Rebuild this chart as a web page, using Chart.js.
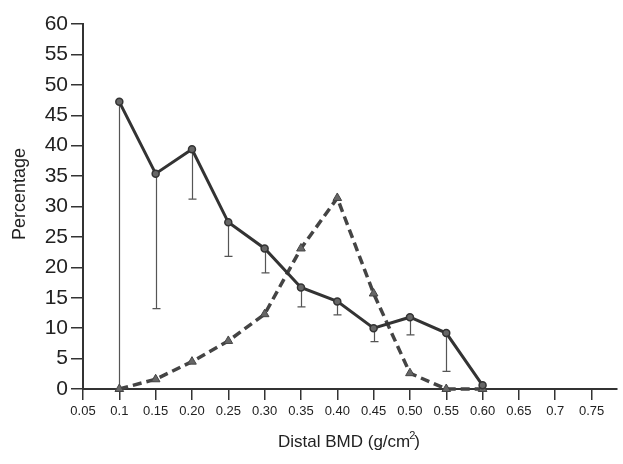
<!DOCTYPE html>
<html>
<head>
<meta charset="utf-8">
<script src="https://cdn.jsdelivr.net/npm/chart.js@4"></script>
<style>
  html, body { margin: 0; padding: 0; background: #fff; }
  #wrap { position: relative; width: 623px; height: 464px; }
</style>
</head>
<body>
<div id="wrap"><canvas id="bmdChart" width="623" height="464"></canvas></div>
<script>
// distal BMD bins (g/cm2)
const bmd = [0.1, 0.15, 0.2, 0.25, 0.3, 0.35, 0.4, 0.45, 0.5, 0.55, 0.6];
// solid series with lower error whiskers
const solidPct = [47.2, 35.4, 39.4, 27.4, 23.1, 16.7, 14.4, 10.0, 11.8, 9.2, 0.6];
const solidLow = [0, 13.2, 31.2, 21.8, 19.1, 13.5, 12.2, 7.8, 8.9, 2.9, null];
// dashed series
const dashedPct = [0, 1.6, 4.5, 7.9, 12.3, 23.1, 31.4, 15.7, 2.6, 0, 0];

const xTickValues = [0.05, 0.1, 0.15, 0.2, 0.25, 0.3, 0.35, 0.4, 0.45, 0.5, 0.55, 0.6, 0.65, 0.7, 0.75];
const xTickLabels = ['0.05', '0.1', '0.15', '0.20', '0.25', '0.30', '0.35', '0.40', '0.45', '0.50', '0.55', '0.60', '0.65', '0.7', '0.75'];

const ink = '#333333';
const font = '"Liberation Sans", Arial, sans-serif';

const toPoints = (ys) => bmd.map((x, i) => ({ x, y: ys[i] }));

// downward whiskers under the solid line
const whiskers = {
  id: 'whiskers',
  beforeDatasetsDraw(chart) {
    const { ctx, scales: { x, y } } = chart;
    ctx.save();
    ctx.strokeStyle = '#555';
    ctx.lineWidth = 1.2;
    bmd.forEach((v, i) => {
      const lo = solidLow[i];
      if (lo === null) return;
      const px = Math.round(x.getPixelForValue(v)) + 0.5;
      const top = y.getPixelForValue(solidPct[i]);
      const bot = y.getPixelForValue(lo);
      ctx.beginPath();
      ctx.moveTo(px, top);
      ctx.lineTo(px, bot);
      ctx.moveTo(px - 4, bot);
      ctx.lineTo(px + 4, bot);
      ctx.stroke();
    });
    ctx.restore();
  }
};

// axis titles
const axisTitles = {
  id: 'axisTitles',
  afterDraw(chart) {
    const { ctx } = chart;
    ctx.save();
    ctx.fillStyle = '#222';
    ctx.font = '18px ' + font;
    ctx.textAlign = 'center';
    ctx.textBaseline = 'middle';
    ctx.translate(20, 194);
    ctx.rotate(-Math.PI / 2);
    ctx.fillText('Percentage', 0, 0);
    ctx.restore();

    ctx.save();
    ctx.fillStyle = '#222';
    ctx.font = '17px ' + font;
    ctx.textBaseline = 'alphabetic';
    const base = 'Distal BMD (g/cm';
    let xPos = 278;
    ctx.fillText(base, xPos, 447);
    xPos += ctx.measureText(base).width;
    ctx.font = '11px ' + font;
    ctx.fillText('2', xPos - 1, 439);
    xPos += ctx.measureText('2').width - 2;
    ctx.font = '17px ' + font;
    ctx.fillText(')', xPos, 447);
    ctx.restore();
  }
};

new Chart(document.getElementById('bmdChart'), {
  type: 'line',
  data: {
    datasets: [
      {
        label: 'solid',
        data: toPoints(solidPct),
        borderColor: ink,
        borderWidth: 3,
        pointStyle: 'circle',
        pointRadius: 3.5,
        pointBackgroundColor: '#666',
        pointBorderColor: ink,
        pointBorderWidth: 1.5,
        tension: 0,
        clip: false
      },
      {
        label: 'dashed',
        data: toPoints(dashedPct),
        borderColor: '#444',
        borderWidth: 3.5,
        borderDash: [9, 5],
        pointStyle: 'triangle',
        pointRadius: 5,
        pointBackgroundColor: '#666',
        pointBorderColor: '#444',
        pointBorderWidth: 1,
        tension: 0,
        clip: false
      }
    ]
  },
  options: {
    responsive: false,
    animation: false,
    layout: { padding: { top: 24, right: 1, left: 0, bottom: 0 } },
    plugins: {
      legend: { display: false },
      tooltip: { enabled: false }
    },
    scales: {
      x: {
        type: 'linear',
        min: 0.05,
        max: 0.785,
        afterBuildTicks: (scale) => {
          scale.ticks = xTickValues.map((value) => ({ value }));
        },
        afterFit: (scale) => { scale.height = 75; },
        ticks: {
          autoSkip: false,
          maxRotation: 0,
          padding: 4,
          color: '#222',
          font: { family: font, size: 13 },
          callback: (value) => {
            const i = xTickValues.findIndex((t) => Math.abs(t - value) < 1e-9);
            return i >= 0 ? xTickLabels[i] : '';
          }
        },
        grid: {
          drawOnChartArea: false,
          drawTicks: true,
          tickLength: 11,
          color: ink,
          lineWidth: 1.5
        },
        border: { display: true, color: ink, width: 2 }
      },
      y: {
        min: 0,
        max: 60,
        afterFit: (scale) => { scale.width = 83; },
        ticks: {
          stepSize: 5,
          padding: 3,
          color: '#222',
          font: { family: font, size: 21 }
        },
        grid: {
          drawOnChartArea: false,
          drawTicks: true,
          tickLength: 12,
          color: ink,
          lineWidth: 1.5
        },
        border: { display: true, color: ink, width: 2 }
      }
    }
  },
  plugins: [whiskers, axisTitles]
});
</script>
</body>
</html>
